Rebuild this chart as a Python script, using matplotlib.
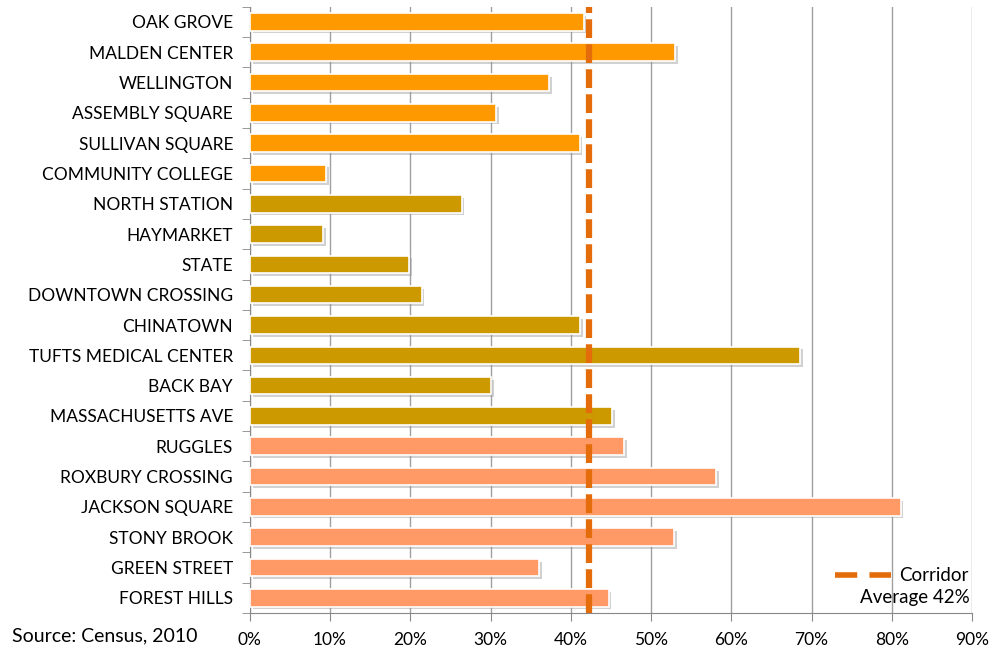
import matplotlib
matplotlib.use("Agg")
import matplotlib.pyplot as plt
import matplotlib.patheffects as pe
from matplotlib.lines import Line2D
from matplotlib.ticker import FixedLocator
import numpy as np

stations = ["OAK GROVE", "MALDEN CENTER", "WELLINGTON", "ASSEMBLY SQUARE",
            "SULLIVAN SQUARE", "COMMUNITY COLLEGE", "NORTH STATION", "HAYMARKET",
            "STATE", "DOWNTOWN CROSSING", "CHINATOWN", "TUFTS MEDICAL CENTER",
            "BACK BAY", "MASSACHUSETTS AVE", "RUGGLES", "ROXBURY CROSSING",
            "JACKSON SQUARE", "STONY BROOK", "GREEN STREET", "FOREST HILLS"]
values = [41.6, 53.0, 37.3, 30.7, 41.1, 9.5, 26.4, 9.1, 19.9, 21.4,
          41.2, 68.6, 30.1, 45.1, 46.6, 58.1, 81.1, 52.9, 36.1, 44.7]
segment = ["north"] * 6 + ["downtown"] * 8 + ["south"] * 6
segment_colors = {"north": "#FF9900", "downtown": "#CC9900", "south": "#FF9966"}
corridor_avg = 42.3
avg_label = "Average 42%"
xticks = [0, 10, 20, 30, 40, 50, 60, 70, 80, 90]
source = "Source: Census, 2010"

plt.rcParams['font.family'] = ['Lato', 'DejaVu Sans']

fig = plt.figure(figsize=(9.95, 6.54), dpi=100)
ax = fig.add_axes([0.251, 0.0627, 0.726, 0.927])

y = np.arange(len(stations))
colors = [segment_colors[s] for s in segment]
bars = ax.barh(y, values, height=0.58, color=colors, edgecolor="white",
               linewidth=1.2, zorder=3)
for b in bars:
    b.set_path_effects([pe.SimplePatchShadow(offset=(2, -2), shadow_rgbFace="#999999", alpha=0.45),
                        pe.Normal()])

ax.axvline(corridor_avg, color="#E46C0A", lw=4.5, ls=(0, (3.0, 1.0)), zorder=4)

ax.set_xlim(0, 90)
ax.set_ylim(len(stations) - 0.5, -0.5)
ax.set_xticks(xticks)
ax.set_xticklabels([f"{t}%" for t in xticks], fontsize=12.5)
ax.set_yticks(y)
ax.set_yticklabels(stations, fontsize=12.5)
ax.tick_params(axis='y', length=0, pad=12)
ax.yaxis.set_minor_locator(FixedLocator(np.arange(-0.5, len(stations), 1)))
ax.tick_params(axis='y', which='minor', length=6, color="#888888")
ax.tick_params(axis='x', length=6, color="#888888", pad=8)
ax.grid(axis='x', color="#A0A0A0", lw=1, zorder=0)
for s in ["top", "right"]:
    ax.spines[s].set_visible(False)
for s in ["left", "bottom"]:
    ax.spines[s].set_color("#888888")

handle = Line2D([0], [0], color="#E46C0A", lw=4, ls=(0, (4.0, 2.2)))
leg = ax.legend([handle], ["Corridor"], loc="lower right", frameon=False,
                fontsize=13.5, bbox_to_anchor=(1.005, 0.035), handlelength=3.0,
                handletextpad=0.4, borderaxespad=0)
ax.text(0.997, 0.012, avg_label, transform=ax.transAxes, ha="right", va="bottom",
        fontsize=13.5)

fig.text(0.012, 0.015, source, fontsize=14, ha="left", va="bottom")

fig.savefig("out.png", dpi=100)
